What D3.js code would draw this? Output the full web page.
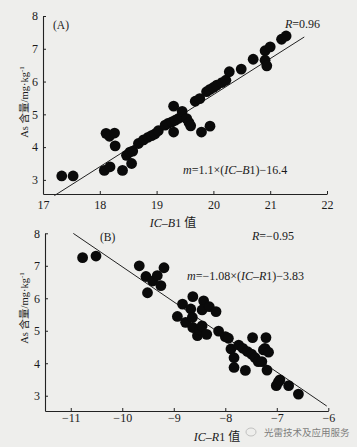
<!DOCTYPE html>
<html><head><meta charset="utf-8">
<script src="https://cdn.jsdelivr.net/npm/d3@7"></script>
<style>
html,body{margin:0;padding:0;background:#eeeeec;}
svg{display:block;}
text{font-family:"Liberation Serif","Noto Sans CJK SC",serif;fill:#1a1a1a;}
</style></head>
<body>
<svg id="c" width="357" height="447"></svg>
<script>
// Panel A data
const topX = [17.33,17.53,18.08,18.11,18.17,18.26,18.27,18.18,18.40,18.47,18.53,18.56,18.58,18.68,18.77,18.85,18.91,18.97,19.03,19.15,19.20,19.27,19.33,19.39,19.45,19.30,19.30,19.45,19.53,19.57,19.60,19.79,19.94,19.68,19.76,19.88,19.94,20.00,20.06,20.15,20.22,20.28,20.49,20.70,20.91,21.00,20.91,20.94,21.20,21.28];
const topY = [3.12,3.12,3.29,4.42,4.33,4.43,4.04,3.40,3.29,3.75,3.85,3.50,3.88,4.11,4.22,4.30,4.35,4.40,4.50,4.67,4.72,4.77,4.82,4.88,4.93,5.25,4.46,5.09,4.87,4.75,4.65,4.46,4.64,5.40,5.48,5.69,5.76,5.82,5.89,5.97,6.04,6.30,6.38,6.68,6.94,7.06,6.65,6.48,7.29,7.39];
const topXTicks = [17,18,19,20,21,22];
const topYTicks = [3,4,5,6,7,8];
const topFit = {slope:1.1, intercept:-16.4, from:17.2, to:21.6};

// Panel B data
const botX = [-10.77,-10.51,-9.67,-9.54,-9.41,-9.32,-9.19,-9.25,-9.51,-8.93,-8.83,-8.77,-8.67,-8.63,-8.64,-8.63,-8.54,-8.50,-8.45,-8.42,-8.45,-8.31,-8.36,-8.18,-8.13,-8.00,-7.94,-7.89,-7.83,-7.83,-7.74,-7.66,-7.61,-7.57,-7.49,-7.47,-7.42,-7.36,-7.29,-7.21,-7.23,-7.26,-7.16,-7.19,-7.01,-6.97,-6.94,-6.77,-6.58];
const botY = [7.25,7.30,7.00,6.67,6.53,6.70,6.94,6.39,6.17,5.44,5.82,5.26,5.67,6.05,5.41,5.10,4.85,5.03,5.15,5.92,5.64,5.74,4.89,5.59,4.99,4.82,4.77,4.44,4.17,3.87,4.56,4.46,3.78,4.36,4.28,4.79,4.17,4.05,4.05,4.79,4.46,4.41,4.34,3.79,3.31,3.42,3.49,3.31,3.05];
const botXTicks = [-11,-10,-9,-8,-7,-6];
const botYTicks = [3,4,5,6,7,8];
const botFit = {slope:-1.08, intercept:-3.83, from:-10.95, to:-6.03};

const svg = d3.select("#c");
const fmt = d => d < 0 ? "\u2212" + Math.abs(d) : String(d);

function panel(cfg){
  const x = d3.scaleLinear().domain(cfg.xd).range(cfg.xr);
  const y = d3.scaleLinear().domain(cfg.yd).range(cfg.yr);
  const g = svg.append("g");
  const xa = g.append("g").attr("transform",`translate(0,${cfg.yr[0]})`)
    .call(d3.axisBottom(x).tickValues(cfg.xt).tickSizeInner(-3).tickSizeOuter(0).tickPadding(cfg.xpad).tickFormat(fmt));
  const ya = g.append("g").attr("transform",`translate(${cfg.xr[0]},0)`)
    .call(d3.axisLeft(y).tickValues(cfg.yt).tickSizeInner(-3).tickSizeOuter(0).tickPadding(5).tickFormat(fmt));
  [xa,ya].forEach(a=>{
    a.select(".domain").attr("stroke","#222").attr("stroke-width",1.1);
    a.selectAll(".tick line").attr("stroke","#222");
    a.selectAll("text").attr("font-size",12).attr("fill","#1a1a1a").style("font-family","Liberation Serif, serif");
  });
  g.append("line")
    .attr("x1",x(cfg.fit.from)).attr("y1",y(cfg.fit.slope*cfg.fit.from+cfg.fit.intercept))
    .attr("x2",x(cfg.fit.to)).attr("y2",y(cfg.fit.slope*cfg.fit.to+cfg.fit.intercept))
    .attr("stroke","#222").attr("stroke-width",1);
  g.selectAll("circle").data(cfg.xs.map((v,i)=>[v,cfg.ys[i]])).join("circle")
    .attr("cx",d=>x(d[0])).attr("cy",d=>y(d[1])).attr("r",5.4).attr("fill","#0a0a0a");
  const yl = g.append("text").attr("transform",`translate(${cfg.ylx},${cfg.yly}) rotate(-90)`)
    .attr("text-anchor","middle").attr("font-size",10.5);
  yl.append("tspan").text("As ");
  yl.append("tspan").text("含量/mg·kg");
  yl.append("tspan").attr("dy",-4).attr("font-size",7).text("-1");
  const xl = g.append("text").attr("x",cfg.xlx).attr("y",cfg.xly).attr("text-anchor","middle").attr("font-size",12);
  xl.append("tspan").attr("font-style","italic").text("IC");
  xl.append("tspan").text("\u2013");
  xl.append("tspan").attr("font-style","italic").text(cfg.xlLetter);
  xl.append("tspan").text("1 值");
  g.append("text").attr("x",cfg.tag[0]).attr("y",cfg.tag[1]).attr("font-size",11.5).text(cfg.tagText);
  const r = g.append("text").attr("x",cfg.rpos[0]).attr("y",cfg.rpos[1]).attr("font-size",12);
  r.append("tspan").attr("font-style","italic").text("R");
  r.append("tspan").text(cfg.rText);
  const e = g.append("text").attr("x",cfg.epos[0]).attr("y",cfg.epos[1]).attr("font-size",12);
  e.append("tspan").attr("font-style","italic").text("m");
  e.append("tspan").text(cfg.eq1);
  e.append("tspan").attr("font-style","italic").text("IC");
  e.append("tspan").text("\u2013");
  e.append("tspan").attr("font-style","italic").text(cfg.xlLetter);
  e.append("tspan").text(cfg.eq2);
}

panel({xd:[17,22], xr:[43,327], yd:[2.57,8], yr:[194,16], xt:topXTicks, yt:topYTicks, xpad:6,
  xs:topX, ys:topY, fit:topFit, ylx:28, yly:102, xlx:173, xly:227, xlLetter:"B",
  tag:[53,29], tagText:"(A)", rpos:[285,28], rText:"=0.96",
  epos:[183,174], eq1:"=1.1×(", eq2:"1)\u221216.4"});

panel({xd:[-11.5,-6], xr:[45,328.3], yd:[2.53,8], yr:[411,233.3], xt:botXTicks, yt:botYTicks, xpad:2,
  xs:botX, ys:botY, fit:botFit, ylx:28, yly:308, xlx:217, xly:441, xlLetter:"R",
  tag:[100,241], tagText:"(B)", rpos:[252,240], rText:"=\u22120.95",
  epos:[187,280], eq1:"=\u22121.08×(", eq2:"1)\u22123.83"});

// watermark
const wm = svg.append("g").attr("opacity",0.55);
wm.append("ellipse").attr("cx",251).attr("cy",432).attr("rx",5).attr("ry",4).attr("fill","none").attr("stroke","#888").attr("stroke-width",0.8);
wm.append("text").attr("x",264).attr("y",436).attr("font-size",9.5).attr("fill","#777")
  .style("font-family","Noto Sans CJK SC, sans-serif").text("光雷技术及应用服务");
</script>
</body></html>
